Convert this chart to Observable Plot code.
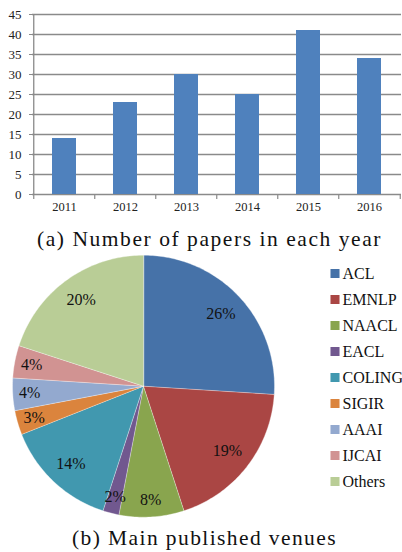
<!DOCTYPE html>
<html>
<head>
<meta charset="utf-8">
<script src="https://cdn.jsdelivr.net/npm/d3@7"></script>
<script src="https://cdn.jsdelivr.net/npm/@observablehq/plot@0.6"></script>
<style>
  html, body { margin: 0; padding: 0; background: #fff; }
  #root { position: relative; width: 402px; height: 552px; overflow: hidden; }
  #root > * { position: absolute; }
  #root svg text { font-family: "Liberation Serif" !important; }
  .cap { font-family: "Liberation Serif"; font-size: 21.5px; line-height: 21.5px; color: #111; white-space: nowrap; }
</style>
</head>
<body>
<div id="root"></div>
<script>
// ---- data ----
const years = ["2011", "2012", "2013", "2014", "2015", "2016"];
const papers = [14, 23, 30, 25, 41, 34];
const yTicks = [0, 5, 10, 15, 20, 25, 30, 35, 40, 45];
const venues = ["ACL", "EMNLP", "NAACL", "EACL", "COLING", "SIGIR", "AAAI", "IJCAI", "Others"];
const shares = [26, 19, 8, 2, 14, 3, 4, 4, 20];
const venueColors = ["#4672A8", "#AA4644", "#89A54E", "#71588F", "#4198AF", "#DB843D", "#93A9CF", "#D19392", "#B9CD96"];
const captionA = "(a) Number of papers in each year";
const captionB = "(b) Main published venues";

const root = document.getElementById("root");
const serif = "Liberation Serif";

// ---- bar chart ----
const W = 402, mL = 32, mR = 1;
const step = (W - mL - mR) / years.length;
const barData = years.map((y, i) => ({year: y, count: papers[i]}));
const bar = Plot.plot({
  width: W, height: 215,
  marginTop: 14, marginBottom: 21, marginLeft: mL, marginRight: mR,
  style: {fontFamily: serif, background: "transparent", overflow: "visible"},
  x: {domain: years, paddingInner: 0.6, paddingOuter: 0.3},
  y: {domain: [0, 45]},
  marks: [
    Plot.gridY(yTicks, {stroke: "#8a8a8a", strokeOpacity: 1, strokeWidth: 1.3}),
    Plot.ruleX([years[0]], {dx: -step / 2, stroke: "#8a8a8a", strokeWidth: 1.3}),
    Plot.ruleX(years, {x: d => d, y1: 0, y2: 0, insetBottom: -5, dx: -step / 2, stroke: "#8a8a8a", strokeWidth: 1.2}),
    Plot.ruleX([years[years.length - 1]], {y1: 0, y2: 0, insetBottom: -5, dx: step / 2, stroke: "#8a8a8a", strokeWidth: 1.2}),
    Plot.barY(barData, {x: "year", y: "count", fill: "#4F81BD"}),
    Plot.axisY({ticks: yTicks, tickSize: 3, tickPadding: 8, fontSize: 13, fontFamily: serif, stroke: "#8a8a8a", fill: "#222", label: null}),
    Plot.axisX({tickSize: 0, tickPadding: 8, fontSize: 12.5, fontFamily: serif, fill: "#222", label: null})
  ]
});
bar.style.left = "0px"; bar.style.top = "0px";
root.appendChild(bar);

// caption fitted to the reference's horizontal extent
function caption(text, left, right, top) {
  const d = document.createElement("div");
  d.className = "cap";
  d.textContent = text;
  d.style.top = top + "px";
  root.appendChild(d);
  const w = d.getBoundingClientRect().width;
  const ls = ((right - left) - w) / text.length;
  d.style.letterSpacing = ls + "px";
  d.style.left = left + "px";
}
caption(captionA, 37, 382, 229);

// ---- pie chart ----
const total = d3.sum(shares);
let acc = 0;
const slices = venues.map((v, i) => {
  const a0 = acc / total * 2 * Math.PI;
  acc += shares[i];
  const a1 = acc / total * 2 * Math.PI;
  return {venue: v, value: shares[i], a0, a1};
});
const pieRows = [];
for (const s of slices) {
  pieRows.push({venue: s.venue, x: 0, y: 0});
  const n = Math.max(2, Math.ceil((s.a1 - s.a0) / (Math.PI / 180)));
  for (let k = 0; k <= n; k++) {
    const a = s.a0 + (s.a1 - s.a0) * k / n;
    pieRows.push({venue: s.venue, x: Math.sin(a), y: Math.cos(a)});
  }
}
const labelRows = slices.map(s => {
  const m = (s.a0 + s.a1) / 2;
  const r = s.value < 10 ? 0.87 : 0.81;
  return {x: r * Math.sin(m), y: r * Math.cos(m), text: s.value + "%"};
});
const pieTop = 250;
const cx = 143, cy = 385.7 - pieTop, R = 131;
const pie = Plot.plot({
  width: 290, height: 280,
  margin: 0,
  style: {fontFamily: serif, background: "transparent", overflow: "visible"},
  x: {domain: [-1, 1], range: [cx - R, cx + R], axis: null},
  y: {domain: [-1, 1], range: [cy + R, cy - R], axis: null},
  color: {domain: venues, range: venueColors},
  marks: [
    Plot.line(pieRows, {x: "x", y: "y", z: "venue", fill: "venue", stroke: "#ffffff", strokeWidth: 0.5, strokeOpacity: 0.7, curve: "linear-closed"}),
    Plot.text(labelRows, {x: "x", y: "y", text: "text", fontSize: 16, fontFamily: serif, fill: "#111"})
  ]
});
pie.style.left = "0px"; pie.style.top = pieTop + "px";
root.appendChild(pie);

// ---- legend ----
const legTop = 255;
const legend = Plot.plot({
  width: 72, height: 245, margin: 0,
  style: {fontFamily: serif, background: "transparent", overflow: "visible"},
  x: {domain: [0, 1], range: [4.5, 70], axis: null},
  y: {type: "point", domain: venues, range: [270 - legTop, 484 - legTop], padding: 0, axis: null},
  color: {domain: venues, range: venueColors},
  marks: [
    Plot.dot(venues, {x: () => 0, y: d => d, symbol: "square", r: 5.1, fill: d => d, stroke: null}),
    Plot.text(venues, {x: () => 0, y: d => d, text: d => d, dx: 7.5, textAnchor: "start", fontSize: 16, fontFamily: serif, fill: "#111"})
  ]
});
legend.style.left = "330px"; legend.style.top = legTop + "px";
root.appendChild(legend);

caption(captionB, 72, 337, 528);
</script>
</body>
</html>
